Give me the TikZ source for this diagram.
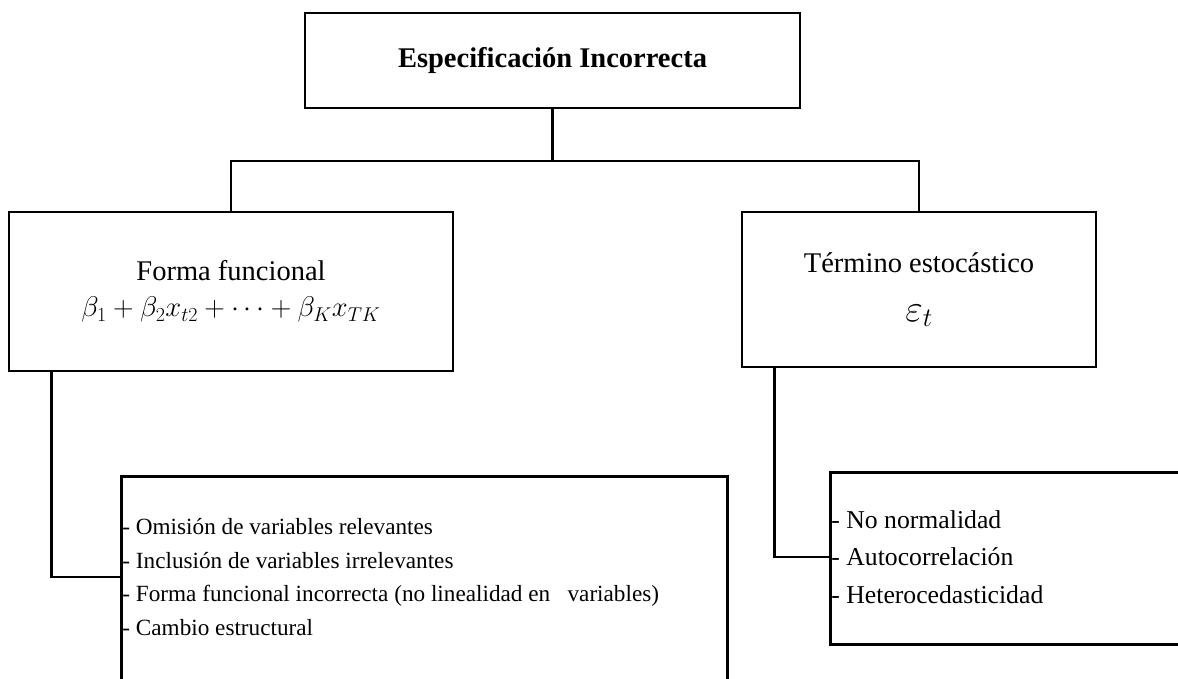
\RequirePackage{fix-cm}
\documentclass[tikz,border=0pt]{standalone}
\usepackage{fontspec}
\setmainfont{Liberation Serif}
\begin{document}
\begin{tikzpicture}[x=1pt,y=-1pt,line width=2.8pt,
	box/.style={draw,rectangle,inner sep=0pt},
	items/.style={inner sep=0pt,anchor=west,align=left}]
	\newcommand{\myfonthead}{\fontsize{28.5}{36}\selectfont}
	\newcommand{\myfontbig}{\fontsize{38}{40}\selectfont}
	\newcommand{\myfontlistleft}{\fontsize{23.2}{33.5}\selectfont}
	\newcommand{\myfontlistright}{\fontsize{25.7}{37.5}\selectfont}
	%Page frame
	\clip (0,0) rectangle (1178,678);
	\useasboundingbox (0,0) rectangle (1178,678);
	%Head box
	\coordinate (centerHead) at (552.5,60.5);
	\node [box,minimum width=495pt,minimum height=95pt,font=\myfonthead\bfseries] (head) at (centerHead) {Especificación Incorrecta};
	%Left box
	\coordinate (centerForma) at (231,291.5);
	\node [box,minimum width=444pt,minimum height=159pt,align=center,font=\myfonthead] (forma) at (centerForma) {Forma funcional\\[0pt]$\beta_1+\beta_2x_{t2}+\cdots+\beta_Kx_{TK}$};
	%Right box
	\coordinate (centerTermino) at (919,289.5);
	\node [box,minimum width=354pt,minimum height=155pt,align=center,font=\myfonthead] (termino) at (centerTermino) {Término estocástico\\[13pt]{\myfontbig$\varepsilon_t$}};
	%List boxes
	\coordinate (cornerListL) at (120,475);
	\node [box,anchor=north west,minimum width=606pt,minimum height=260pt] (listL) at (cornerListL) {};
	\coordinate (cornerListR) at (829,471);
	\node [box,anchor=north west,minimum width=400pt,minimum height=172pt] (listR) at (cornerListR) {};
	%Items in the list boxes
	\coordinate (startItemsL) at (121,577);
	\node [items,font=\myfontlistleft] (itemsL) at (startItemsL) {- Omisión de variables relevantes\\- Inclusión de variables irrelevantes\\- Forma funcional incorrecta (no linealidad en~~~variables)\\- Cambio estructural};
	\coordinate (startItemsR) at (830,557);
	\node [items,font=\myfontlistright] (itemsR) at (startItemsR) {- No normalidad\\- Autocorrelación\\- Heterocedasticidad};
	%Connectors
	\coordinate (split) at (552.5,161);
	\draw (head.south) -- (split);
	\draw (forma.north) |- (split) -| (termino.north);
	\coordinate (dropForma) at ([xshift=44pt]forma.south west);
	\coordinate (dropTermino) at ([xshift=34pt]termino.south west);
	\draw (dropForma) |- (itemsL.west -| listL.west);
	\draw (dropTermino) |- (itemsR.west -| listR.west);
\end{tikzpicture}
\end{document}
